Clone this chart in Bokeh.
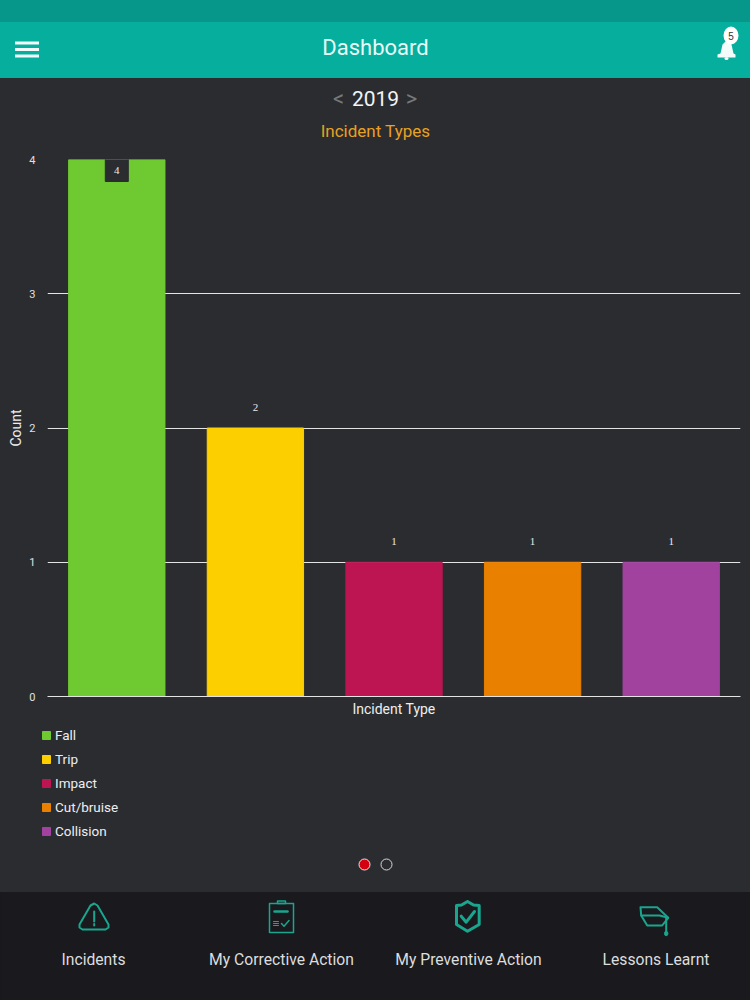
from bokeh.embed import file_html
from bokeh.resources import INLINE
from bokeh.plotting import figure
from bokeh.layouts import column
from bokeh.models import (ColumnDataSource, FactorRange, Range1d, LabelSet,
                          Legend, LegendItem, FixedTicker)

categories = ["Fall", "Trip", "Impact", "Cut/bruise", "Collision"]
counts = [4, 2, 1, 1, 1]
bar_colors = ["#6fca31", "#fccf00", "#bd1551", "#ea8000", "#a2429f"]
y_ticks = [0, 1, 2, 3, 4]
title_text = "Incident Types"
year_text = "2019"
nav_labels = ["Incidents", "My Corrective Action", "My Preventive Action", "Lessons Learnt"]

FONT = "Roboto"
BG = "#2a2c30"
TEAL = "#1aa58f"
STATUS = "#07968a"
HEADER = "#06ae9e"
FOOTER = "#1a1a1e"
W = 750
TOP_H = 150      # page band above the chart
CHART_H = 570    # chart band
PAGE_H = 1000


def chrome(y_from, y_to, backdrop):
    f = figure(width=W, height=y_to - y_from, output_backend="svg", toolbar_location=None,
               x_range=Range1d(0, W), y_range=Range1d(y_to, y_from),
               x_axis_type=None, y_axis_type=None, min_border=0, frame_align=False,
               background_fill_color=None, border_fill_color=None, outline_line_color=None,
               styles={"background": backdrop})
    f.grid.visible = False
    return f


def box(f, l, t, r, b, color):
    f.quad(left=[l], right=[r], top=[t], bottom=[b], color=color, line_color=None)


def path(f, xs, ys, color=TEAL, width=2):
    f.line(xs, ys, line_color=color, line_width=width, line_join="round", line_cap="round")


def closed(f, xs, ys, color=TEAL, width=2):
    path(f, list(xs) + [xs[0]], list(ys) + [ys[0]], color, width)


def oval(f, cx, cy, w, h, fill=None, line=None, width=1):
    f.ellipse(x=[cx], y=[cy], width=[w], height=[h], fill_color=fill,
              fill_alpha=1 if fill else 0, line_color=line, line_width=width)


def label(f, s, x, y, size, color, font=FONT):
    f.text(x=[x], y=[y], text=[s], text_align="center", text_baseline="middle",
           text_color=color, text_font={"value": font}, text_font_size={"value": size})


# ---------- top band ----------
head = chrome(0, TOP_H, f"linear-gradient({STATUS} 0 22px,{HEADER} 22px 78px,{BG} 78px)")
for y in (42.5, 49, 55.5):
    box(head, 14.5, y - 1.5, 38.5, y + 1.5, "#f2fbfa")
label(head, "Dashboard", 375, 47, "22px", "#e6faf7")
head.patch([720, 722, 725, 728, 731, 733, 735, 735, 717, 717],
           [53, 44, 41, 41, 44, 53, 54, 57, 57, 54], color="#f4fcfb", line_color=None)
oval(head, 726, 58, 4, 3, fill="#f4fcfb")
oval(head, 730.5, 35, 15, 18, fill="#ffffff")
label(head, "5", 730.5, 35, "10px", "#333333", "Liberation Sans")
label(head, "<", 338, 98, "22px", "#77797c")
label(head, year_text, 375, 98, "21px", "#f4f4f4")
label(head, ">", 411, 98, "22px", "#77797c")
label(head, title_text, 375, 130, "17px", "#e9a122")

# ---------- chart ----------
top = max(counts)
source = ColumnDataSource(dict(
    cat=categories, val=counts, color=bar_colors,
    txt=[str(v) for v in counts],
    off=[-11 if v == top else 21 for v in counts],
))

p = figure(width=W, height=CHART_H, output_backend="svg", toolbar_location=None,
           x_range=FactorRange(factors=categories, range_padding=0, factor_padding=0),
           y_range=Range1d(0, top), frame_align=False,
           min_border_left=47, min_border_right=10, min_border_top=9, min_border_bottom=24,
           background_fill_color=None, border_fill_color=None, outline_line_color=None,
           styles={"background-color": BG})

p.xgrid.grid_line_color = None
p.ygrid.grid_line_color = "#e4e4e4"
p.ygrid.grid_line_width = 1
p.yaxis.ticker = FixedTicker(ticks=y_ticks)
p.yaxis.axis_line_color = None
p.yaxis.major_tick_line_color = None
p.yaxis.minor_tick_line_color = None
p.yaxis.major_label_text_color = "#e0e0e0"
p.yaxis.major_label_text_font = FONT
p.yaxis.major_label_text_font_size = "11px"
p.yaxis.major_label_standoff = 6
p.yaxis.axis_label = "Count"
p.yaxis.axis_label_text_color = "#eeeeee"
p.yaxis.axis_label_text_font = FONT
p.yaxis.axis_label_text_font_size = "14px"
p.yaxis.axis_label_text_font_style = "normal"
p.yaxis.axis_label_standoff = 2

p.xaxis.axis_line_color = "#e4e4e4"
p.xaxis.major_tick_line_color = None
p.xaxis.minor_tick_line_color = None
p.xaxis.major_label_text_font_size = "0px"
p.xaxis.major_label_text_color = None
p.xaxis.major_label_standoff = 0
p.xaxis.axis_label = "Incident Type"
p.xaxis.axis_label_text_color = "#eeeeee"
p.xaxis.axis_label_text_font = FONT
p.xaxis.axis_label_text_font_size = "14px"
p.xaxis.axis_label_text_font_style = "normal"
p.xaxis.axis_label_standoff = -2

p.vbar(x="cat", top="val", width=0.695, color="color", source=source)

notch = ColumnDataSource(dict(cat=[c for c, v in zip(categories, counts) if v == top],
                              val=[v for v in counts if v == top]))
p.rect(x="cat", y="val", width=23, height=44, width_units="screen", height_units="screen",
       color=BG, source=notch)

p.add_layout(LabelSet(x="cat", y="val", text="txt", y_offset="off", source=source,
                      text_align="center", text_baseline="middle",
                      text_color="#e8e8e8", text_font=FONT, text_font_size="11px"))

# ---------- bottom band ----------
y0 = TOP_H + CHART_H
foot = chrome(y0, PAGE_H, f"linear-gradient({BG} 0 {892 - y0}px,{FOOTER} {892 - y0}px)")

# the swatches only feed the legend; the footer box painted next hides them
n = len(categories)
swatch_src = ColumnDataSource(dict(x=[375] * n, top=[950] * n, color=bar_colors))
swatches = foot.vbar(x="x", top="top", bottom=951, width=1, color="color", source=swatch_src)
box(foot, 0, 892, W, PAGE_H, FOOTER)

legend = Legend(items=[LegendItem(label=c, renderers=[swatches], index=i) for i, c in enumerate(categories)],
                location=(41, 159), orientation="vertical",
                background_fill_alpha=0, border_line_color=None,
                glyph_width=10, glyph_height=10, label_standoff=4, spacing=4,
                label_height=20, margin=0, padding=0,
                label_text_color="#eeeeee", label_text_font=FONT, label_text_font_size="13.5px")
foot.add_layout(legend, "center")

oval(foot, 364, 864, 11, 11, fill="#d3000f", line="#e8e8e8")
oval(foot, 386, 864, 11, 11, line="#d8d8d8")

# Incidents icon
closed(foot, [93.7, 97, 108, 108, 105, 82, 79, 79, 90], [903, 905, 924, 927, 929, 929, 927, 924, 905])
path(foot, [93.7, 93.7], [911, 921])
path(foot, [93.7, 93.7], [923.5, 925])
# Corrective action icon
closed(foot, [269, 293, 293, 269], [903, 903, 932, 932], width=1.5)
closed(foot, [277, 285, 285, 277], [900.5, 900.5, 903, 903], width=1.5)
path(foot, [274, 287], [911, 911], width=2.5)
for y in (921, 923, 925):
    path(foot, [273, 278], [y, y], width=1)
path(foot, [281, 283.5, 288.5], [923, 925.7, 920], width=1.5)
# Preventive action icon
closed(foot, [467, 473, 478.7, 478.7, 467, 456, 456, 461],
       [901, 904.5, 905, 924, 930.7, 924, 905, 904.5], width=3)
path(foot, [460.7, 465.7, 474], [915.7, 921.7, 911], width=3)
# Lessons learnt icon
closed(foot, [640, 656.7, 667.7, 661.7, 646.7, 640.7], [906.7, 906.7, 917.3, 925, 925, 915])
path(foot, [640.7, 659, 667.7], [915, 915, 917.3])
path(foot, [665.7, 665.7], [917.3, 931])
oval(foot, 665.7, 933, 3.4, 4.4, fill=TEAL, line=TEAL)

for s, cx in zip(nav_labels, (93, 281, 468, 655.5)):
    label(foot, s, cx, 959, "15.7px", "#dddddd")

open("out.html", "w").write(file_html(column(head, p, foot, spacing=0), INLINE))
